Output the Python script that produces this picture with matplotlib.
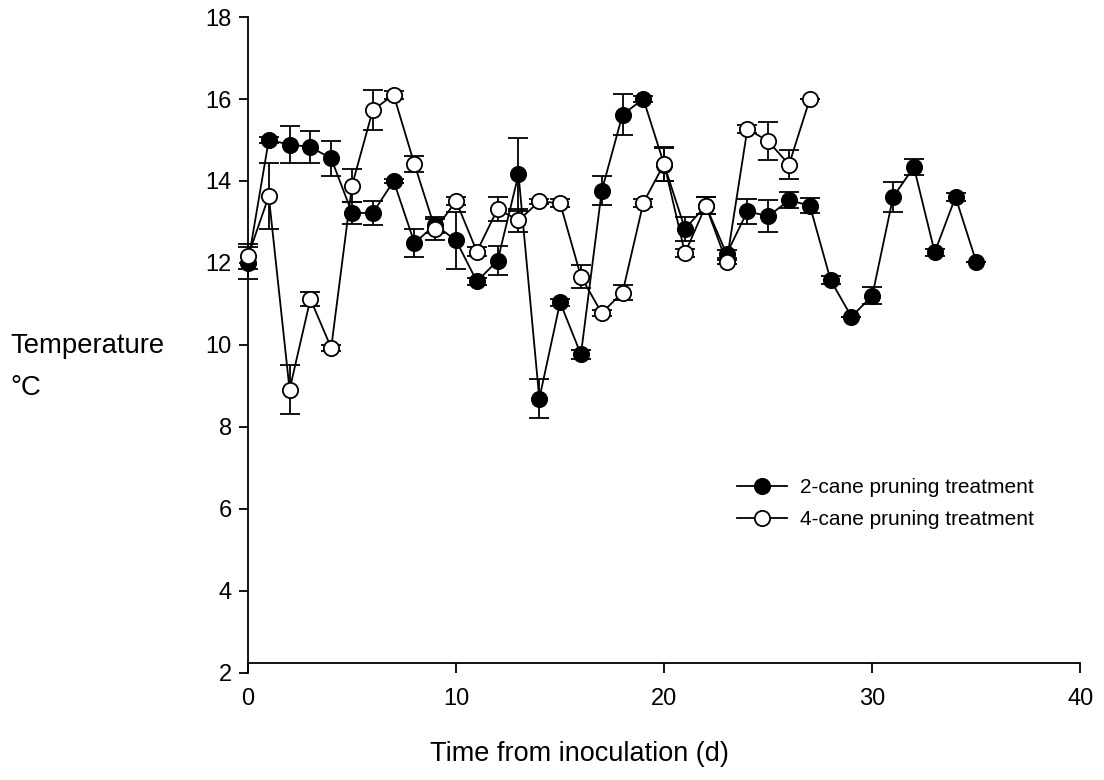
import matplotlib.pyplot as plt
from matplotlib.lines import Line2D
import numpy as np

plt.rcParams['font.family'] = ['Liberation Sans', 'DejaVu Sans']

# 2-cane pruning treatment
days_2 = np.arange(0, 36)
temp_2 = [12.0, 15.0, 14.89, 14.83, 14.55, 13.22, 13.22, 14.0, 12.49, 12.93,
          12.55, 11.55, 12.06, 14.16, 8.69, 11.04, 9.77, 13.76, 15.62, 16.0,
          14.4, 12.83, 13.4, 12.22, 13.26, 13.14, 13.53, 13.4, 11.58, 10.69,
          11.2, 13.61, 14.34, 12.26, 13.61, 12.02]
err_2 = [0.38, 0.08, 0.46, 0.38, 0.43, 0.26, 0.3, 0.05, 0.34, 0.2,
         0.69, 0.08, 0.36, 0.88, 0.48, 0.08, 0.1, 0.35, 0.5, 0.08,
         0.4, 0.3, 0.2, 0.1, 0.3, 0.39, 0.19, 0.18, 0.1, 0.0,
         0.21, 0.36, 0.2, 0.08, 0.1, 0.0]

# 4-cane pruning treatment
days_4 = np.arange(0, 28)
temp_4 = [12.16, 13.63, 8.91, 11.12, 9.93, 13.89, 15.73, 16.1, 14.41, 12.82,
          13.51, 12.28, 13.32, 13.04, 13.5, 13.46, 11.67, 10.78, 11.28, 13.47,
          14.42, 12.24, 13.4, 12.02, 15.27, 14.97, 14.4, 16.0]
err_4 = [0.3, 0.8, 0.59, 0.18, 0.08, 0.4, 0.49, 0.1, 0.2, 0.25,
         0.1, 0.1, 0.3, 0.28, 0.05, 0.1, 0.27, 0.08, 0.19, 0.1,
         0.41, 0.1, 0.2, 0.05, 0.1, 0.46, 0.36, 0.0]

labels = ['2-cane pruning treatment', '4-cane pruning treatment']

fig = plt.figure(figsize=(11.04, 7.8), dpi=100)
ax = fig.add_axes([0.2246, 0.1372, 0.754, 0.841])

style = dict(color='black', marker='o', markersize=11, markeredgewidth=1.3,
             markeredgecolor='black', linewidth=1.3, elinewidth=1.3,
             capsize=7, capthick=1.3, clip_on=False)
e1 = ax.errorbar(days_2, temp_2, yerr=err_2, markerfacecolor='black',
                 zorder=3, **style)
e2 = ax.errorbar(days_4, temp_4, yerr=err_4, markerfacecolor='white',
                 zorder=4, **style)
for e in (e1, e2):
    for part in e[1] + e[2]:
        part.set_clip_on(False)

ax.set_xlim(0, 40)
ax.set_ylim(2, 18)
ax.set_xticks([0, 10, 20, 30, 40])
ax.set_yticks([2, 4, 6, 8, 10, 12, 14, 16, 18])
ax.spines['top'].set_visible(False)
ax.spines['right'].set_visible(False)
ax.spines['bottom'].set_position(('data', 2.245))
for s in ax.spines.values():
    s.set_linewidth(1.3)
ax.tick_params(axis='y', direction='out', length=6.5, width=1.3,
               labelsize=17, pad=5)
ax.tick_params(axis='x', direction='out', length=7.2, width=1.3,
               labelsize=17, pad=11)

fig.text(0.009, 0.5474, 'Temperature', fontsize=19.8, ha='left',
         va='baseline')
fig.text(0.009, 0.4936, '°C', fontsize=19.8, ha='left', va='baseline')
fig.text(0.525, 0.024, 'Time from inoculation (d)', fontsize=19.5,
         ha='center', va='baseline')

handles = [Line2D([], [], color='black', marker='o', markersize=11,
                  markerfacecolor=fc, markeredgecolor='black',
                  markeredgewidth=1.3, linewidth=1.3)
           for fc in ('black', 'white')]
ax.legend(handles, labels, loc='upper left',
          bbox_to_anchor=(737 / 1104, 1 - 478 / 780),
          bbox_transform=fig.transFigure, frameon=False, fontsize=15,
          handlelength=2.4, handletextpad=0.6, labelspacing=0.62,
          borderpad=0, borderaxespad=0)

fig.savefig('out.png', dpi=100)
